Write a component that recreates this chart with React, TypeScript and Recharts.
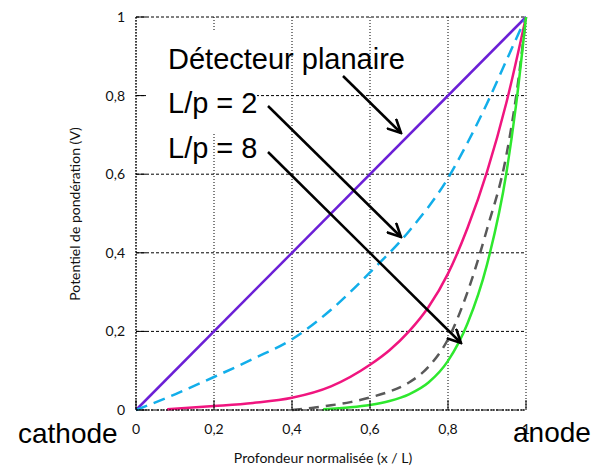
import React from "react";
import {
  LineChart,
  Line,
  XAxis,
  YAxis,
  CartesianGrid,
} from "recharts";

// tick values shared by both axes
const ticks = [0, 0.2, 0.4, 0.6, 0.8, 1];

// planar detector (straight line)
const planarX = [0, 1];
const planarY = [0, 1];

// L/p = 2 (cyan dashed)
const lp2X = [0, 0.1, 0.2, 0.3, 0.4, 0.5, 0.6, 0.7, 0.8, 0.85, 0.9, 0.95, 1];
const lp2Y = [0, 0.04, 0.084, 0.13, 0.18, 0.255, 0.35, 0.455, 0.59, 0.68, 0.78, 0.89, 1];

// intermediate ratio (pink)
const pinkX = [0.08, 0.2, 0.3, 0.4, 0.5, 0.6, 0.65, 0.7, 0.75, 0.8, 0.85, 0.9, 0.95, 1];
const pinkY = [0.002, 0.01, 0.018, 0.031, 0.06, 0.115, 0.152, 0.2, 0.262, 0.347, 0.463, 0.606, 0.783, 1];

// intermediate ratio (grey dashed)
const greyX = [0.4, 0.45, 0.5, 0.55, 0.6, 0.65, 0.7, 0.75, 0.8, 0.85, 0.9, 0.95, 0.975, 1];
const greyY = [0, 0.005, 0.012, 0.02, 0.032, 0.047, 0.07, 0.11, 0.18, 0.3, 0.46, 0.65, 0.8, 1];

// L/p = 8 (green)
const lp8X = [0.48, 0.55, 0.6, 0.65, 0.7, 0.75, 0.8, 0.85, 0.9, 0.95, 0.975, 1];
const lp8Y = [0.002, 0.007, 0.013, 0.023, 0.04, 0.07, 0.125, 0.22, 0.37, 0.605, 0.78, 1];

const toPoints = (xs: number[], ys: number[]) => xs.map((x, i) => ({ x, y: ys[i] }));

const fmt = (v: number) => String(v).replace(".", ",");

const tickFont = "Lato, 'Open Sans', sans-serif";
const annoFont = "'Liberation Sans', Arial, sans-serif";
const smallSize = 14;

const LeftTick = (props: any) => {
  const { x, y, payload } = props;
  return (
    <g>
      <line x1={x + 9} y1={y} x2={x + 19} y2={y} stroke="#000" strokeWidth={1} />
      <text x={x - 2} y={y} dy={5} textAnchor="end" fontSize={smallSize} fontFamily={tickFont} fill="#111">
        {fmt(payload.value)}
      </text>
    </g>
  );
};

const BottomTick = (props: any) => {
  const { x, y, payload } = props;
  return (
    <g>
      <line x1={x} y1={y - 10} x2={x} y2={y - 20} stroke="#000" strokeWidth={1} />
      <text x={x} y={y + 14} textAnchor="middle" fontSize={smallSize} fontFamily={tickFont} fill="#111">
        {fmt(payload.value)}
      </text>
    </g>
  );
};

const TopTick = (props: any) => {
  const { x, y } = props;
  return <line x1={x} y1={y} x2={x} y2={y + 10} stroke="#000" strokeWidth={1} />;
};

const RightTick = (props: any) => {
  const { x, y } = props;
  return <line x1={x} y1={y} x2={x - 10} y2={y} stroke="#000" strokeWidth={1} />;
};

const border = { stroke: "#000", strokeDasharray: "2 1", strokeWidth: 1 };

export default function App() {
  return (
    <div style={{ position: "absolute", left: 0, top: 0, width: 596, height: 466, background: "#fff" }}>
      <LineChart width={596} height={466} margin={{ top: 17, right: 70, bottom: 26, left: 0 }}>
        <CartesianGrid horizontal vertical={false} stroke="#000" strokeDasharray="3 2" />
        <CartesianGrid horizontal={false} vertical stroke="#000" strokeDasharray="1 2" />
        <XAxis
          type="number"
          dataKey="x"
          domain={[0, 1]}
          ticks={ticks}
          height={30}
          tickSize={0}
          tickMargin={10}
          tickLine={false}
          axisLine={border}
          tick={<BottomTick />}
        />
        <XAxis
          xAxisId="top"
          orientation="top"
          type="number"
          dataKey="x"
          domain={[0, 1]}
          ticks={ticks}
          height={0}
          tickSize={0}
          tickMargin={0}
          tickLine={false}
          axisLine={border}
          tick={<TopTick />}
        />
        <YAxis
          type="number"
          domain={[0, 1]}
          ticks={ticks}
          width={136}
          tickSize={0}
          tickMargin={9}
          tickLine={false}
          axisLine={border}
          tick={<LeftTick />}
        />
        <YAxis
          yAxisId="right"
          orientation="right"
          type="number"
          domain={[0, 1]}
          ticks={ticks}
          width={0}
          tickSize={0}
          tickMargin={0}
          tickLine={false}
          axisLine={border}
          tick={<RightTick />}
        />
        <Line data={toPoints(planarX, planarY)} dataKey="y" type="linear" stroke="#6B1FD6" strokeWidth={2.5} dot={false} isAnimationActive={false} />
        <Line data={toPoints(lp2X, lp2Y)} dataKey="y" type="monotone" stroke="#12AEEA" strokeWidth={2.5} strokeDasharray="12 7" dot={false} isAnimationActive={false} />
        <Line data={toPoints(pinkX, pinkY)} dataKey="y" type="monotone" stroke="#F0157F" strokeWidth={2.5} dot={false} isAnimationActive={false} />
        <Line data={toPoints(greyX, greyY)} dataKey="y" type="monotone" stroke="#595959" strokeWidth={2.5} strokeDasharray="10 7" dot={false} isAnimationActive={false} />
        <Line data={toPoints(lp8X, lp8Y)} dataKey="y" type="monotone" stroke="#2EE82E" strokeWidth={2.5} dot={false} isAnimationActive={false} />
      </LineChart>

      <svg width={596} height={466} style={{ position: "absolute", left: 0, top: 0, pointerEvents: "none" }}>
        <defs>
          <marker id="head" viewBox="0 0 10 10" refX={9} refY={5} markerWidth={15} markerHeight={15} markerUnits="userSpaceOnUse" orient="auto">
            <path d="M0,0.5 L9,5 L0,9.5" fill="none" stroke="#000" strokeWidth={1.7} />
          </marker>
        </defs>
        <rect x={146} y={31} width={111} height={101} fill="#fff" />
        <g fontFamily={annoFont} fontSize={29} fill="#000">
          <text x={168} y={69}>Détecteur planaire</text>
          <text x={168} y={113}>L/p = 2</text>
          <text x={168} y={158}>L/p = 8</text>
        </g>
        <g stroke="#000" strokeWidth={2.5} markerEnd="url(#head)">
          <line x1={343} y1={76} x2={401} y2={133} />
          <line x1={268} y1={106} x2={401} y2={237} />
          <line x1={268} y1={152} x2={461} y2={343} />
        </g>
        <g fontFamily={annoFont} fontSize={28} fill="#000">
          <text x={18} y={443}>cathode</text>
          <text x={513} y={442}>anode</text>
        </g>
        <g fontFamily={tickFont} fontSize={smallSize} fill="#111">
          <text x={323} y={463} textAnchor="middle">Profondeur normalisée (x / L)</text>
          <text x={80} y={214} textAnchor="middle" transform="rotate(-90 80 214)">Potentiel de pondération (V)</text>
        </g>
      </svg>
    </div>
  );
}
